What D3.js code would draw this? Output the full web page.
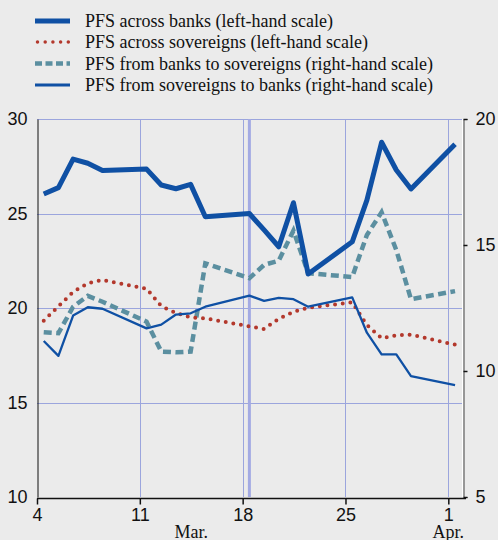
<!DOCTYPE html>
<html>

<head>
    <meta charset="utf-8">
    <script src="https://cdn.jsdelivr.net/npm/d3@7"></script>
    <style>
        body { margin: 0; background: #ebebeb; }
        svg { display: block; font-family: "Liberation Serif", "DejaVu Serif", serif; }
    </style>
</head>

<body>
    <svg class="MainSvg"></svg>
</body>
<script>
    // business days, 2013
    var days = ["2013-03-04", "2013-03-05", "2013-03-06", "2013-03-07", "2013-03-08",
        "2013-03-11", "2013-03-12", "2013-03-13", "2013-03-14", "2013-03-15",
        "2013-03-18", "2013-03-19", "2013-03-20", "2013-03-21", "2013-03-22",
        "2013-03-25", "2013-03-26", "2013-03-27", "2013-03-28", "2013-03-29",
        "2013-04-01"];

    // left-hand scale
    var acrossBanks = [26.03, 26.37, 27.88, 27.66, 27.27, 27.35, 26.51, 26.31, 26.54, 24.83,
        25.0, 24.13, 23.24, 25.57, 21.8, 23.5, 25.71, 28.77, 27.3, 26.3, 28.66];
    var acrossSovereigns = [19.33, 20.09, 20.85, 21.31, 21.48, 21.02, 20.1, 19.74, 19.5, 19.45,
        19.03, 18.89, 19.43, 19.8, 20.02, 20.3, 19.1, 18.4, 18.56, 18.59, 18.06];
    // right-hand scale
    var banksToSovereigns = [11.54, 11.5, 12.55, 12.98, 12.75, 11.96, 10.77, 10.74, 10.77, 14.27,
        13.68, 14.21, 14.38, 15.57, 13.88, 13.73, 15.4, 16.3, 14.8, 12.85, 13.17];
    var sovereignsToBanks = [11.19, 10.6, 12.2, 12.53, 12.47, 11.69, 11.84, 12.24, 12.29, 12.55,
        12.99, 12.78, 12.9, 12.85, 12.55, 12.92, 11.52, 10.66, 10.66, 9.8, 9.44];

    var seriesNames = ["PFS across banks (left-hand scale)",
        "PFS across sovereigns (left-hand scale)",
        "PFS from banks to sovereigns (right-hand scale)",
        "PFS from sovereigns to banks (right-hand scale)"];

    var leftTicks = [10, 15, 20, 25, 30];
    var rightTicks = [5, 10, 15, 20];
    var monthLabels = [{ label: "Mar.", date: "2013-03-14 12:00" }, { label: "Apr.", date: "2013-04-01 00:00" }];
    var eventDay = "2013-03-18";

    var width = 498, height = 540;
    var margin = { top: 119, right: 35, bottom: 42, left: 37 };
    var blue = "#0f50a4", red = "#b3382c", teal = "#5b8fa0", grid = "#9ba5dd";

    var parseDay = d3.timeParse("%Y-%m-%d");
    var parseTime = d3.timeParse("%Y-%m-%d %H:%M");
    // points sit a little into each day
    function pointDate(s) { return d3.timeHour.offset(parseDay(s), 11); }

    var x = d3.scaleTime()
        .domain([parseDay("2013-03-04"), parseDay("2013-04-02")])
        .range([margin.left, width - margin.right]);
    var yL = d3.scaleLinear().domain([10, 30]).range([height - margin.bottom - 1, margin.top]);
    var yR = d3.scaleLinear().domain([5, 20]).range([height - margin.bottom - 1, margin.top]);

    var svg = d3.select(".MainSvg")
        .attr("width", width)
        .attr("height", height);

    var x0 = x.range()[0], x1 = x.range()[1], yb = yL.range()[0], yt = yL.range()[1];

    // gridlines
    svg.append("g").selectAll("line")
        .data(leftTicks.filter(function (d) { return d > 10; }))
        .enter().append("line")
        .attr("x1", x0).attr("x2", x1 - 1)
        .attr("y1", function (d) { return Math.round(yL(d)) + 0.5; })
        .attr("y2", function (d) { return Math.round(yL(d)) + 0.5; })
        .attr("stroke", grid).attr("stroke-width", 1);

    var weekTicks = d3.timeMonday.range(parseDay("2013-03-05"), parseDay("2013-04-02"));
    svg.append("g").selectAll("line")
        .data(weekTicks)
        .enter().append("line")
        .attr("x1", function (d) { return Math.round(x(d)) + 0.5; })
        .attr("x2", function (d) { return Math.round(x(d)) + 0.5; })
        .attr("y1", yt).attr("y2", yb)
        .attr("stroke", grid).attr("stroke-width", 1);

    // event marker
    svg.append("line")
        .attr("x1", x(pointDate(eventDay))).attr("x2", x(pointDate(eventDay)))
        .attr("y1", yt).attr("y2", yb)
        .attr("stroke", "#a3aae3").attr("stroke-width", 3);

    // lines
    function lineFor(vals, scale) {
        return d3.line()
            .x(function (d, i) { return x(pointDate(days[i])); })
            .y(function (d) { return scale(d); })(vals);
    }
    svg.append("path").attr("d", lineFor(banksToSovereigns, yR))
        .attr("fill", "none").attr("stroke", teal).attr("stroke-width", 4.5)
        .attr("stroke-dasharray", "8 4.5");
    svg.append("path").attr("d", lineFor(acrossSovereigns, yL))
        .attr("fill", "none").attr("stroke", red).attr("stroke-width", 4)
        .attr("stroke-linecap", "round").attr("stroke-dasharray", "0 7.7");
    svg.append("path").attr("d", lineFor(sovereignsToBanks, yR))
        .attr("fill", "none").attr("stroke", blue).attr("stroke-width", 2.3)
        .attr("stroke-linejoin", "round");
    svg.append("path").attr("d", lineFor(acrossBanks, yL))
        .attr("fill", "none").attr("stroke", blue).attr("stroke-width", 5)
        .attr("stroke-linejoin", "round");

    // left axis
    var yAxisL = d3.axisLeft(yL).tickValues(leftTicks).tickSize(0).tickPadding(10);
    svg.append("g")
        .attr("class", "y axis")
        .attr("transform", "translate(" + (x0 + 0.5) + ",0)")
        .call(yAxisL)
        .call(function (g) { g.select(".domain").attr("stroke", "#111"); })
        .call(function (g) { g.selectAll("text").attr("font-size", 18).attr("fill", "#111").attr("font-family", null); });

    // right axis, with a white edge on its inside
    svg.append("line")
        .attr("x1", x1 - 0.5).attr("x2", x1 - 0.5).attr("y1", yt).attr("y2", yb)
        .attr("stroke", "#fff").attr("stroke-width", 1);
    var yAxisR = d3.axisRight(yR).tickValues(rightTicks).tickSize(4).tickPadding(8);
    svg.append("g")
        .attr("class", "y axis right")
        .attr("transform", "translate(" + (x1 + 0.5) + ",0)")
        .call(yAxisR)
        .call(function (g) { g.select(".domain").attr("stroke", "#444"); })
        .call(function (g) { g.selectAll(".tick line").attr("stroke", "#111").attr("stroke-width", 1.5); })
        .call(function (g) { g.selectAll("text").attr("font-size", 18).attr("fill", "#111").attr("font-family", null); });

    // x axis
    var xAxis = d3.axisBottom(x)
        .tickValues(d3.timeMonday.range(parseDay("2013-03-04"), parseDay("2013-04-02")))
        .tickFormat(d3.timeFormat("%-d"))
        .tickSize(6).tickSizeOuter(0).tickPadding(4);
    svg.append("g")
        .attr("class", "x axis")
        .attr("transform", "translate(0," + (yb + 1.5) + ")")
        .call(xAxis)
        .call(function (g) { g.select(".domain").attr("stroke", "#111").attr("stroke-width", 1.5).attr("d", "M" + x0 + ",0H" + (x1 + 3)); })
        .call(function (g) { g.selectAll(".tick line").attr("stroke", "#111").attr("stroke-width", 1.5); })
        .call(function (g) { g.selectAll("text").attr("font-size", 18).attr("fill", "#111").attr("font-family", null); });

    svg.append("g").selectAll("text")
        .data(monthLabels)
        .enter().append("text")
        .attr("x", function (d) { return x(parseTime(d.date)); })
        .attr("y", 538)
        .attr("text-anchor", "middle")
        .attr("font-size", 18).attr("fill", "#111")
        .text(function (d) { return d.label; });

    // legend
    var legendY = [21, 42, 63.5, 85];
    var legend = svg.append("g").selectAll("g")
        .data(seriesNames)
        .enter().append("g")
        .attr("transform", function (d, i) { return "translate(0," + legendY[i] + ")"; });
    legend.append("line")
        .attr("x1", function (d, i) { return i == 1 ? 37.5 : 35; })
        .attr("x2", 70)
        .attr("stroke", function (d, i) { return [blue, red, teal, blue][i]; })
        .attr("stroke-width", function (d, i) { return [5, 3.5, 4.5, 3][i]; })
        .attr("stroke-linecap", function (d, i) { return i == 1 ? "round" : "butt"; })
        .attr("stroke-dasharray", function (d, i) { return [null, "0 7.7", "7 3.5", null][i]; });
    legend.append("text")
        .attr("x", 85)
        .attr("y", 6)
        .attr("font-size", 18).attr("fill", "#111")
        .text(function (d) { return d; });
</script>

</html>
